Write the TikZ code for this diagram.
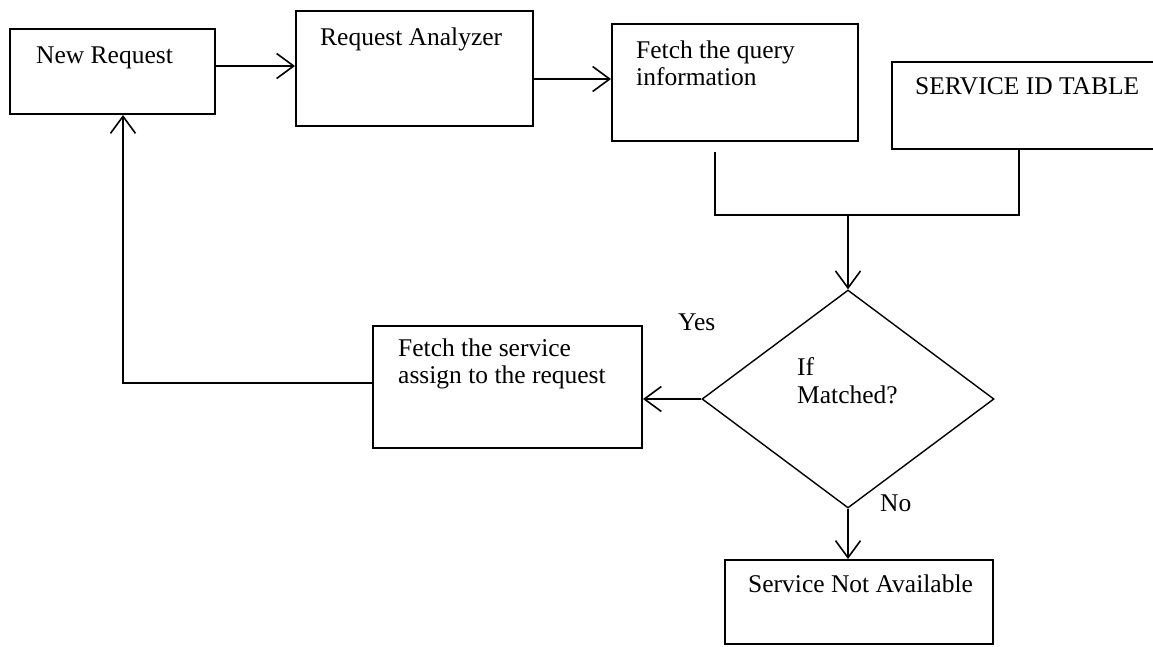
\documentclass[tikz,border=0pt]{standalone}
\usepackage{fontspec}
\setmainfont{Liberation Serif}
\usetikzlibrary{arrows.meta,shapes.geometric}
\begin{document}
\begin{tikzpicture}[x=1pt,y=-1pt,
  box/.style={draw,line width=2pt,rectangle,inner sep=0pt},
  conn/.style={line width=1.6pt},
  arr/.style={conn,-{Straight Barb[length=17pt,width=25pt,line width=1.6pt]}},
  txt/.style={anchor=base west,inner sep=0pt,font=\fontsize{25.5}{29}\selectfont}]
\useasboundingbox (0,0) rectangle (1153,646);
\clip (0,0) rectangle (1153,646);
% boxes
\node[box,minimum width=205pt,minimum height=85pt] (nr) at (112.5,71.5) {};
\node[box,minimum width=237pt,minimum height=115pt] (ra) at (414.5,68.5) {};
\node[box,minimum width=246pt,minimum height=117pt] (fq) at (735,82.5) {};
\node[box,minimum width=276pt,minimum height=87pt] (sid) at (1030,105.5) {};
\node[box,minimum width=269pt,minimum height=122pt] (fs) at (507.5,387) {};
\node[box,minimum width=268pt,minimum height=84pt] (sna) at (859,602) {};
\node[diamond,draw,line width=1.4pt,inner sep=0pt,minimum width=292pt,minimum height=218pt] (dm) at (848,399) {};
% texts
\node[txt] (t1) at (36,63) {New Request};
\node[txt] (t2) at (320,45) {Request Analyzer};
\node[txt] (t3) at (636,58) {Fetch the query};
\node[txt] (t3b) at (636,85) {information};
\node[txt] (t4) at (915,94) {SERVICE ID TABLE};
\node[txt] (t5) at (398,356) {Fetch the service};
\node[txt] (t5b) at (398,383) {assign to the request};
\node[txt] (t6) at (797,375) {If};
\node[txt] (t6b) at (797,403) {Matched?};
\node[txt] (t7) at (678,330) {Yes};
\node[txt] (t8) at (880,511) {No};
\node[txt] (t9) at (748,592) {Service Not Available};
% connectors
\coordinate (a1) at ([yshift=5.5pt]nr.east);
\draw[arr] (a1) -- (a1 -| ra.west);
\coordinate (a2) at ([yshift=-10.5pt]ra.east);
\draw[arr] (a2) -- (a2 -| fq.west);
\coordinate (j1) at (715,152);
\coordinate (jn) at (848,215);
\coordinate (sidb) at (1019,149);
\draw[conn] (j1) -- (j1 |- jn) -| (sidb);
\draw[arr] (jn) -- (dm.north);
\draw[arr] (dm.west) -- (dm.west -| fs.east);
\coordinate (r1) at ([yshift=4pt]fs.west);
\coordinate (nrb) at ([xshift=10.5pt]nr.south);
\draw[arr] (r1) -| (nrb);
\draw[arr] (dm.south) -- (dm.south |- sna.north);
\end{tikzpicture}
\end{document}
